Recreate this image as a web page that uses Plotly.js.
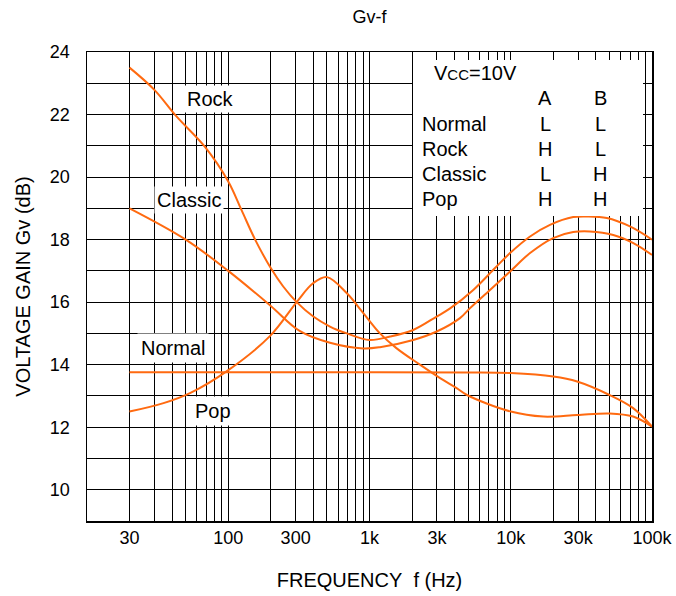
<!DOCTYPE html>
<html>
<head>
<meta charset="utf-8">
<script src="https://cdn.plot.ly/plotly-3.0.1.min.js"></script>
<style>html,body{margin:0;padding:0;background:#fff;}#chart{width:676px;height:596px;}</style>
</head>
<body>
<div id="chart"></div>
<script>
// ---- data ----
const rockF = [20, 30, 43, 68, 100, 124, 155, 200, 245, 305, 400, 525, 692, 1000, 1400, 2040, 2990, 3720, 5430, 7740, 9890, 13700, 18950, 27700, 35000, 47900, 69800, 100000];
const rockG = [23.5, 22.79, 21.94, 20.98, 19.86, 18.95, 18.0, 17.09, 16.5, 16.0, 15.54, 15.22, 15.0, 14.79, 14.9, 15.11, 15.54, 15.8, 16.39, 17.09, 17.57, 18.1, 18.47, 18.72, 18.74, 18.69, 18.42, 18.0];

const classicF = [20, 50, 100, 200, 320, 525, 904, 1186, 2040, 2990, 4370, 5130, 7130, 9890, 13700, 19950, 27700, 36300, 53200, 73800, 100000];
const classicG = [19.0, 18.0, 17.0, 15.88, 15.08, 14.7, 14.52, 14.56, 14.79, 15.06, 15.49, 15.8, 16.39, 16.98, 17.57, 18.05, 18.24, 18.26, 18.15, 17.89, 17.51];

const normalF = [20, 100, 1000, 5000, 10000, 20000, 29500, 50000, 73500, 100000];
const normalG = [13.76, 13.76, 13.76, 13.75, 13.73, 13.62, 13.46, 13.03, 12.61, 12.02];

const popF = [20, 34.8, 53.6, 99, 198, 305, 400, 500, 689, 904, 1186, 1550, 2275, 3160, 4140, 4900, 10000, 17000, 29500, 50000, 73500, 100000];
const popG = [12.5, 12.77, 13.09, 13.81, 14.92, 16.0, 16.61, 16.8, 16.29, 15.65, 15.0, 14.53, 14.0, 13.57, 13.25, 13.03, 12.5, 12.34, 12.39, 12.44, 12.34, 12.02];

// x grid positions and their printed labels (the first line is labelled "30" in the original)
const xTickVals = [20,30,40,50,60,70,80,90,100,200,300,400,500,600,700,800,900,1000,2000,3000,4000,5000,6000,7000,8000,9000,10000,20000,30000,40000,50000,60000,70000,80000,90000,100000];
const xTickText = ['30','','','','','','','','100','','300','','','','','','','1k','','3k','','','','','','','10k','','30k','','','','','','','100k'];
const yTickVals = [9,10,11,12,13,14,15,16,17,18,19,20,21,22,23,24];
const yTickText = ['','10','','12','','14','','16','','18','','20','','22','','24'];

const modes = ['Normal', 'Rock', 'Classic', 'Pop'];
const pinA = ['L', 'H', 'L', 'H'];
const pinB = ['L', 'L', 'H', 'H'];

// ---- drawing ----
const FONT = 'Liberation Sans, Arial, Helvetica, sans-serif';
const ORANGE = '#ff6a10';
const line = {color: ORANGE, width: 2, shape: 'spline', smoothing: 1.0};

const traces = [
  {x: rockF, y: rockG, name: 'Rock'},
  {x: classicF, y: classicG, name: 'Classic'},
  {x: normalF, y: normalG, name: 'Normal'},
  {x: popF, y: popG, name: 'Pop'}
].map(t => Object.assign(t, {type: 'scatter', mode: 'lines', line: line, hoverinfo: 'x+y+name'}));

// plot area in pixels: left 87, right 652, top 52, bottom 521
const px = x => (x - 87) / 565;
const py = y => (521 - y) / 469;

const TXT = {family: FONT, size: 20, color: '#000'};
const annotations = [];
function label(text, x, y, opts) {
  annotations.push(Object.assign({
    text: text, xref: 'paper', yref: 'paper', x: px(x), y: py(y),
    showarrow: false, font: TXT,
    xanchor: 'center', yanchor: 'middle'
  }, opts || {}));
}
// curve labels with white backing
label('Rock', 210, 99, {bgcolor: '#fff', borderpad: 2});
label('Classic', 189, 200, {bgcolor: '#fff', borderpad: 2});
label('Normal', 173, 348, {bgcolor: '#fff', borderpad: 3});
label('Pop', 213, 411, {bgcolor: '#fff', borderpad: 3});
// condition table
label('V<span style="font-size:15px">CC</span>=10V', 432, 73, {xanchor: 'left'});
label('A', 545, 98);
label('B', 600, 98);
const rowY = [124, 149, 174, 199];
modes.forEach((m, i) => {
  label(m, 420, rowY[i], {xanchor: 'left'});
  label(pinA[i], 545, rowY[i]);
  label(pinB[i], 600, rowY[i]);
});

const layout = {
  width: 676, height: 596,
  margin: {l: 87, r: 24, t: 52, b: 75, pad: 0},
  paper_bgcolor: '#fff', plot_bgcolor: '#fff',
  showlegend: false,
  font: {family: FONT, size: 18, color: '#000'},
  title: {text: 'Gv-f', font: {family: FONT, size: 18, color: '#000'}, x: 0.5, xref: 'paper', xanchor: 'center', y: 1 - 17 / 596, yref: 'container', yanchor: 'middle'},
  xaxis: {
    type: 'log', range: [1, 5], tickvals: xTickVals, ticktext: xTickText,
    showgrid: true, gridcolor: '#000', gridwidth: 1, zeroline: false,
    showline: true, mirror: true, linecolor: '#000', linewidth: 1.5,
    ticks: '', ticklabelstandoff: 0, tickfont: {family: FONT, size: 18, color: '#000'},
    title: {text: 'FREQUENCY&nbsp;&nbsp;f (Hz)', font: {family: FONT, size: 20, color: '#000'}, standoff: 26},
    fixedrange: true
  },
  yaxis: {
    range: [9, 24], tickvals: yTickVals, ticktext: yTickText,
    showgrid: true, gridcolor: '#000', gridwidth: 1, zeroline: false,
    showline: true, mirror: true, linecolor: '#000', linewidth: 1.5,
    ticks: '', ticklabelstandoff: 12, tickfont: {family: FONT, size: 18, color: '#000'},
    title: {text: 'VOLTAGE GAIN Gv (dB)', font: {family: FONT, size: 20, color: '#000'}, standoff: 14},
    fixedrange: true
  },
  shapes: [{
    type: 'rect', xref: 'paper', yref: 'paper', layer: 'above',
    x0: px(413), x1: px(643), y0: py(216), y1: py(60),
    fillcolor: '#fff', line: {width: 0}
  }],
  annotations: annotations
};

Plotly.newPlot('chart', traces, layout, {displayModeBar: false, staticPlot: true});
</script>
</body>
</html>
